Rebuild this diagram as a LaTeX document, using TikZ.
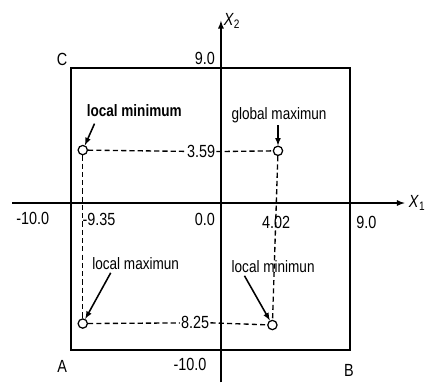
\documentclass[tikz,border=0pt]{standalone}
\usepackage{fontspec}
\setmainfont{Liberation Sans}
\newfontfamily\narrowsf[FakeStretch=0.82]{Liberation Sans}
\begin{document}
\begin{tikzpicture}[>=latex, x=0.5cm, y=0.5cm, font=\narrowsf\fontsize{16}{18}\selectfont]
 \useasboundingbox (-15.03,-12.24) rectangle (13.88,13.81);
 \tikzset{pt/.style={draw, circle, line width=1.2pt, fill=white, inner sep=0pt, minimum size=9pt},
  guide/.style={line width=1.3pt, dash pattern=on 5pt off 3pt}, tag/.style={->, line width=1.5pt},
  val/.style={font=\narrowsf\fontsize{17}{19}\selectfont}}
 % region and axes
 \coordinate (A) at (-10.2,-10); \coordinate (B) at (8.8,-10);
 \coordinate (C) at (-10.2,9.2); \coordinate (D) at (8.8,9.2);
 \draw[line width=1.8pt] (A) -- (B) -- (D) -- (C) -- cycle;
 \coordinate (x0) at (-14.2,0); \coordinate (x1) at (12.5,0);
 \coordinate (y0) at (0,-12.2); \coordinate (y1) at (0,12.4);
 \draw[->, line width=1.6pt] (x0) -- (x1) node[right, val] {\textit{X}\textsubscript{1}};
 \draw[->, line width=1.6pt] (y0) -- (y1) node[right, inner sep=2pt, val] {\textit{X}\textsubscript{2}};
 \node[val] at (-10.8,9.75) {C};
 \node[val] at (-10.8,-11.1) {A};
 \node[val] at (8.7,-11.4) {B};
 % axis values
 \node[val] at (-1.1,9.85) {9.0};
 \node[val] at (-12.8,-1.05) {-10.0};
 \node[val] at (-8.3,-1.15) {-9.35};
 \node[val] at (-1.1,-1.15) {0.0};
 \node[val] at (3.75,-1.3) {4.02};
 \node[val] at (9.9,-1.3) {9.0};
 \node[val] at (-2.1,-10.95) {-10.0};
 % stationary points
 \node[pt] (lminA) at (-9.4,3.6) {};
 \node[pt] (gmax) at (3.88,3.55) {};
 \node[pt] (lmax) at (-9.4,-8.2) {};
 \node[pt] (lminB) at (3.5,-8.3) {};
 \node[val, fill=white, inner sep=1pt] (v359) at (-1.35,3.5) {3.59};
 \node[val, fill=white, inner sep=1pt] (v825) at (-1.75,-8.15) {8.25};
 \draw[guide] (lminA) -- (v359) (v359.east) -- (gmax);
 \draw[guide] (lmax) -- (v825) (v825.east) -- (lminB);
 \draw[guide] (lminA) -- (lmax);
 \draw[guide] (gmax) -- (lminB);
 % labels
 \node[font=\narrowsf\fontsize{16}{18}\selectfont\bfseries] (tlminA) at (-5.9,6.3) {local minimum};
 \node (tgmax) at (3.95,5.95) {global maximun};
 \node (tlmax) at (-5.8,-4.1) {local maximun};
 \node (tlminB) at (3.55,-4.3) {local minimun};
 \coordinate (s1) at (-8.6,5.4); \coordinate (s2) at (3.88,5.3);
 \coordinate (s3) at (-7.5,-4.75); \coordinate (s4) at (1.6,-4.95);
 \draw[tag] (s1) -- (lminA);
 \draw[tag] (s2) -- (gmax);
 \draw[tag] (s3) -- (lmax);
 \draw[tag] (s4) -- (lminB);
\end{tikzpicture}
\end{document}
